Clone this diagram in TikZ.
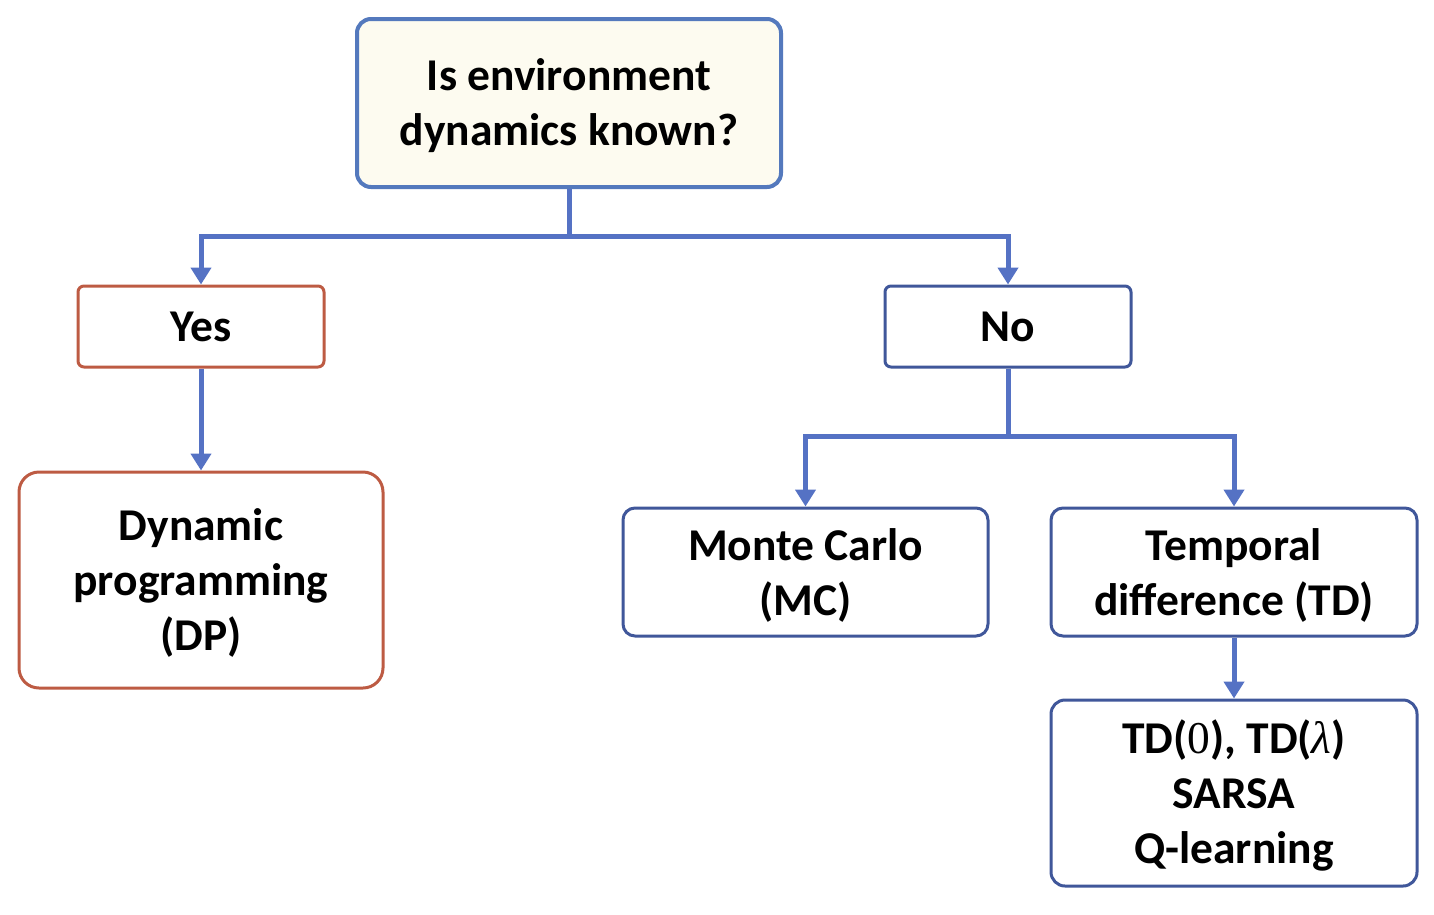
\documentclass[tikz,border=0pt]{standalone}
\usepackage{fontspec}
\setmainfont{Carlito}
\newfontfamily\mathlike{Liberation Serif}
\usetikzlibrary{arrows.meta}
\definecolor{lineblue}{HTML}{5572C4}
\definecolor{topborder}{HTML}{5479BD}
\definecolor{darkblue}{HTML}{40579A}
\definecolor{rust}{HTML}{BD5B43}
\definecolor{cream}{HTML}{FDFBF0}
\newcommand{\tallstrut}{\rule{0pt}{38pt}}
\tikzset{
  box/.style={draw, rectangle, align=center, inner sep=0pt, fill=white,
    font=\fontsize{45.5}{55}\selectfont\bfseries},
  conn/.style={draw=lineblue, line width=5pt, -{Triangle[width=20pt,length=17pt]}},
  seg/.style={draw=lineblue, line width=5pt}
}
\begin{document}
\begin{tikzpicture}[x=1pt,y=-1pt]
\useasboundingbox (0,0) rectangle (1434,914);
\node[box, draw=topborder, fill=cream, line width=4pt, rounded corners=14pt,
  minimum width=424pt, minimum height=168pt] (q) at (569,103) {\tallstrut Is environment\\dynamics known?};
\node[box, draw=rust, line width=3pt, rounded corners=6pt,
  minimum width=246pt, minimum height=81pt] (yes) at (201,326.5) {Yes};
\node[box, draw=darkblue, line width=3pt, rounded corners=6pt,
  minimum width=246pt, minimum height=81pt] (no) at (1008,326.5) {No};
\node[box, draw=rust, line width=3pt, rounded corners=20pt,
  minimum width=364pt, minimum height=216pt] (dp) at (201,580) {\tallstrut Dynamic\\programming\\(DP)};
\node[box, draw=darkblue, line width=3pt, rounded corners=12pt,
  minimum width=365pt, minimum height=128pt] (mc) at (805.5,572) {\tallstrut Monte Carlo\\(MC)};
\node[box, draw=darkblue, line width=3pt, rounded corners=12pt,
  minimum width=366pt, minimum height=128pt] (td) at (1234,572) {\tallstrut Temporal\\difference (TD)};
\node[box, draw=darkblue, line width=3pt, rounded corners=14pt,
  minimum width=366pt, minimum height=186pt] (list) at (1234,793)
  {\tallstrut TD({\mathlike\mdseries 0}), TD({\mathlike\mdseries\itshape λ})\\SARSA\\Q-learning};
\coordinate (j1) at (569,236);
\coordinate (j2) at (1008,436);
\draw[seg] (q.south) -- (j1);
\draw[conn] (j1) -| (yes.north);
\draw[conn] (j1) -| (no.north);
\draw[conn] (yes.south) -- (dp.north);
\draw[seg] (no.south) -- (j2);
\draw[conn] (j2) -| (mc.north);
\draw[conn] (j2) -| (td.north);
\draw[conn] (td.south) -- (list.north);
\end{tikzpicture}
\end{document}
